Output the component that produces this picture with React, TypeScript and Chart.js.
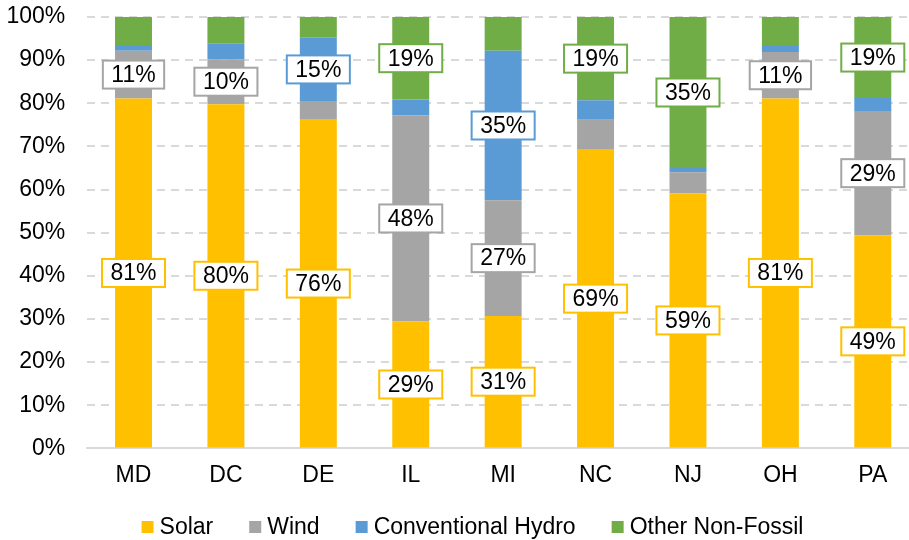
import React, { useEffect, useRef } from "react";
import { Chart, registerables } from "chart.js";

Chart.register(...registerables);

const categories = ["MD", "DC", "DE", "IL", "MI", "NC", "NJ", "OH", "PA"];
const solar = [81.1, 79.8, 76.2, 29.4, 30.7, 69.2, 59.1, 81.1, 49.4];
const wind = [11.1, 10.4, 4.3, 47.8, 26.8, 7.0, 4.9, 10.8, 28.8];
const hydro = [1.3, 3.7, 14.7, 3.7, 34.7, 4.5, 1.0, 1.6, 3.0];
const otherNonFossil = [6.5, 6.1, 4.8, 19.1, 7.8, 19.3, 35.0, 6.5, 18.8];
const seriesNames = ["Solar", "Wind", "Conventional Hydro", "Other Non-Fossil"];
const seriesColors = ["#FFC000", "#A5A5A5", "#5B9BD5", "#70AD47"];
const labelThreshold = 9.5;

const FONT = "'Liberation Sans', Arial, sans-serif";
const FS = 23;

const labelPlugin = {
  id: "boxLabels",
  afterDatasetsDraw(chart: any) {
    const ctx = chart.ctx;
    ctx.save();
    ctx.font = `${FS}px ${FONT}`;
    ctx.textAlign = "center";
    ctx.textBaseline = "middle";
    chart.data.datasets.forEach((ds: any, i: number) => {
      const meta = chart.getDatasetMeta(i);
      meta.data.forEach((bar: any, j: number) => {
        const v = ds.data[j];
        if (v < labelThreshold) return;
        const text = `${Math.round(v)}%`;
        const cx = bar.x;
        const cy = (bar.y + bar.base) / 2;
        const tw = ctx.measureText(text).width;
        const w = tw + 17;
        const h = 28;
        ctx.fillStyle = "#FFFFFF";
        ctx.fillRect(cx - w / 2, cy - h / 2, w, h);
        ctx.lineWidth = 2;
        ctx.strokeStyle = seriesColors[i];
        ctx.strokeRect(cx - w / 2, cy - h / 2, w, h);
        ctx.fillStyle = "#000000";
        ctx.fillText(text, cx, cy + 1);
      });
    });
    ctx.restore();
  },
};

const legendPlugin = {
  id: "customLegend",
  afterDraw(chart: any) {
    const ctx = chart.ctx;
    ctx.save();
    ctx.font = `${FS}px ${FONT}`;
    ctx.textBaseline = "middle";
    ctx.textAlign = "left";
    const box = 12;
    const gap = 6;
    const itemGap = 36;
    const widths = seriesNames.map((n) => ctx.measureText(n).width);
    const total = widths.reduce((a, b) => a + b + box + gap, 0) + itemGap * (seriesNames.length - 1);
    let x = 472.5 - total / 2;
    const cy = 527;
    seriesNames.forEach((n, i) => {
      ctx.fillStyle = seriesColors[i];
      ctx.fillRect(x, cy - box / 2, box, box);
      x += box + gap;
      ctx.fillStyle = "#000";
      ctx.fillText(n, x, cy + 1);
      x += widths[i] + itemGap;
    });
    ctx.restore();
  },
};

export default function App() {
  const ref = useRef<HTMLCanvasElement | null>(null);
  useEffect(() => {
    if (!ref.current) return;
    const data = [solar, wind, hydro, otherNonFossil];
    const chart = new Chart(ref.current, {
      type: "bar",
      data: {
        labels: categories,
        datasets: data.map((d, i) => ({
          label: seriesNames[i],
          data: d,
          backgroundColor: seriesColors[i],
          borderWidth: 0,
          barPercentage: 0.4,
          categoryPercentage: 1,
        })),
      },
      options: {
        animation: false,
        responsive: true,
        maintainAspectRatio: false,
        layout: { padding: { left: 0, right: 0, top: 17, bottom: 38 } },
        plugins: {
          tooltip: { enabled: false },
          legend: { display: false },
        },
        scales: {
          x: {
            stacked: true,
            grid: { display: false, drawTicks: false },
            border: { display: true, color: "#D9D9D9", width: 2 },
            ticks: { color: "#000", font: { family: FONT, size: FS }, padding: 13 },
          },
          y: {
            stacked: true,
            min: 0,
            max: 100,
            afterFit: (scale: any) => {
              scale.width = 87.3;
            },
            ticks: {
              stepSize: 10,
              color: "#000",
              padding: 0,
              font: { family: FONT, size: FS },
              callback: (v: any) => `${v}%`,
            },
            border: { display: false, dash: [8, 6] },
            grid: {
              drawTicks: true,
              tickLength: 22,
              tickColor: "rgba(0,0,0,0)",
              lineWidth: 2,
              color: (c: any) => (c.tick && c.tick.value === 0 ? "rgba(0,0,0,0)" : "#D9D9D9"),
            },
          },
        },
      },
      plugins: [labelPlugin, legendPlugin],
    });
    return () => chart.destroy();
  }, []);
  return (
    <div style={{ position: "absolute", left: 0, top: 0, width: 909, height: 540, overflow: "hidden", background: "#fff" }}>
      <div style={{ position: "relative", width: 919, height: 540 }}>
        <canvas ref={ref} />
      </div>
    </div>
  );
}
